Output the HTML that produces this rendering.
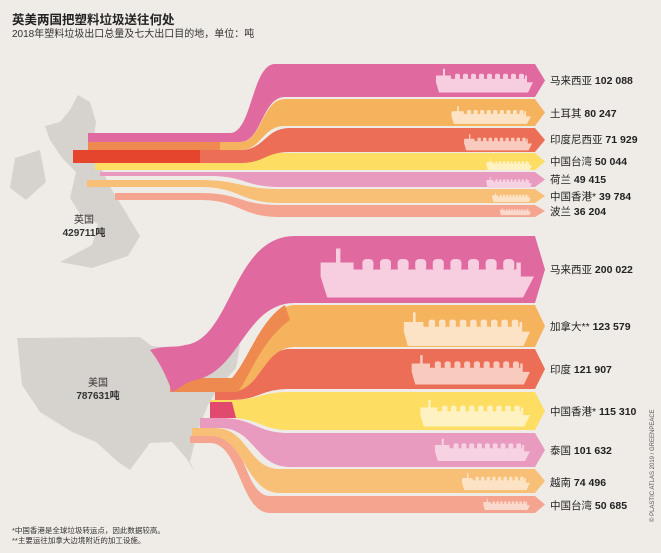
<!DOCTYPE html>
<html><head><meta charset="utf-8"><style>
body{margin:0;background:#efece7;}
svg{display:block;font-family:"Liberation Sans","Noto Sans CJK SC",sans-serif;}
.l{font-size:10.5px;fill:#222;}
.l tspan{font-weight:bold;}
</style></head><body>
<svg width="661" height="553" viewBox="0 0 661 553">
<defs>
<g id="ship">
<path d="M3,18 L3,10 L10,10 L10,2 L12,2 L12,10 L18,10 L18,14 L92,14 L92,10 L94,10 L94,18 L100,18 L95,30 L6,30 Z"/>
<g transform="translate(22,6)">
<rect x="0" y="2" width="5" height="7" rx="2"/><rect x="8" y="2" width="5" height="7" rx="2"/><rect x="16" y="2" width="5" height="7" rx="2"/><rect x="24" y="2" width="5" height="7" rx="2"/><rect x="32" y="2" width="5" height="7" rx="2"/><rect x="40" y="2" width="5" height="7" rx="2"/><rect x="48" y="2" width="5" height="7" rx="2"/><rect x="56" y="2" width="5" height="7" rx="2"/><rect x="64" y="2" width="5" height="7" rx="2"/>
</g>
</g>
</defs>
<rect width="661" height="553" fill="#efece7"/>
<text x="12" y="24" font-size="12.5" font-weight="bold" fill="#222">英美两国把塑料垃圾送往何处</text>
<text x="12" y="37" font-size="10" fill="#333">2018年塑料垃圾出口总量及七大出口目的地，单位：吨</text>

<!-- UK map -->
<g fill="#d6d3ce">
<polygon points="78,95 70,110 60,122 45,126 50,140 62,158 76,172 70,198 80,214 98,224 92,245 60,262 92,268 128,256 140,236 122,206 112,190 102,170 92,150 96,122 90,102"/>
<polygon points="15,158 40,150 46,182 26,200 10,188"/>
</g>
<text x="84" y="223" text-anchor="middle" font-size="10" fill="#333">英国</text>
<text x="84" y="236" text-anchor="middle" font-size="10" fill="#333" font-weight="bold">429711吨</text>

<!-- US map -->
<polygon fill="#d6d3ce" points="17,338 140,337 152,346 170,348 180,360 200,352 225,340 240,345 236,368 218,388 208,405 200,425 194,445 190,462 195,472 186,458 172,442 150,443 130,470 118,462 96,442 72,432 40,412 22,385"/>
<text x="98" y="386" text-anchor="middle" font-size="10" fill="#333">美国</text>
<text x="98" y="399" text-anchor="middle" font-size="10" fill="#333" font-weight="bold">787631吨</text>

<!-- UK bands -->
<path fill="#f5a58f" d="M115,193 L200,193 C240,193 240,205 280,205 L535,205 L545,211 L535,217 L280,217 C240,217 240,200 200,200 L115,200 Z"/>
<path fill="#f8c077" d="M87,180 L200,180 C240,180 240,189 280,189 L535,189 L545,196 L535,203 L280,203 C240,203 240,187 200,187 L87,187 Z"/>
<path fill="#e99abf" d="M100,172 L210,172 C245,172 245,172 280,172 L535,172 L545,179.5 L535,187 L280,187 C245,187 245,176 210,176 L100,176 Z"/>
<path fill="#fedd63" d="M95,163 L200,163 C240,163 240,153 280,153 L535,153 L545,161.5 L535,170 L280,170 C240,170 240,170 200,170 L95,170 Z"/>
<path fill="#ec6e56" d="M73,150 L240,150 C265,150 265,128 290,128 L535,128 L545,140 L535,152 L290,152 C265,152 265,163 240,163 L73,163 Z"/>
<path fill="#e4452c" d="M73,150 L200,150 L200,163 L73,163 Z"/>
<path fill="#f6b35e" d="M88,142 L240,142 C262,142 262,99 285,99 L535,99 L545,112.5 L535,126 L285,126 C262,126 262,150 240,150 L88,150 Z"/>
<path fill="#ee8a50" d="M88,142 L220,142 L220,150 L88,150 Z"/>
<path fill="#e06aa0" d="M88,133 L230,133 C252,133 252,64 275,64 L535,64 L545,80.5 L535,97 L285,97 C262,97 262,142 240,142 L88,142 Z"/>

<!-- US bands -->
<path fill="#f5a58f" d="M190,436 L220,436 C245,436 245,496 270,496 L535,496 L545,504.5 L535,513 L270,513 C240,513 240,443 210,443 L190,443 Z"/>
<path fill="#f8c077" d="M192,428 L215,428 C248,428 248,469 280,469 L535,469 L545,481 L535,493 L280,493 C245,493 245,436 210,436 L192,436 Z"/>
<path fill="#e99abf" d="M200,418 L220,418 C255,418 255,433 290,433 L535,433 L545,450 L535,467 L290,467 C255,467 255,428 220,428 L200,428 Z"/>
<path fill="#fedd63" d="M210,400 L230,400 C260,400 260,392 290,392 L535,392 L545,411 L535,430 L290,430 C260,430 260,418 230,418 L210,418 Z"/>
<path fill="#e14a6e" d="M210,402 L232,402 L236,418 L210,418 Z"/>
<path fill="#ec6e56" d="M215,388 L230,388 C260,388 260,349 290,349 L535,349 L545,369 L535,389 L290,389 C260,389 260,400 230,400 L215,400 Z"/>
<path fill="#f6b35e" d="M170,378 L230,378 C262,378 262,305 295,305 L535,305 L545,326 L535,347 L295,347 C262,347 262,392 230,392 L170,392 Z"/>
<path fill="#ee8a50" d="M170,378 L232,378 C248,360 260,320 285,305 L290,320 C262,340 250,375 238,392 L170,392 Z"/>
<path fill="#e06aa0" d="M150,350 C165,345 175,348 185,345 C232,340 232,236 295,236 L535,236 L545,269.5 L535,303 L295,303 C245,303 240,372 195,380 C185,382 178,390 172,392 C168,380 160,362 150,350 Z"/>

<!-- ships -->
<g fill="#f7cde0"><use href="#ship" transform="translate(433,67) scale(1,0.85)"/><use href="#ship" transform="translate(314,245) scale(2.2,1.75)"/></g>
<g fill="#fde3c6"><use href="#ship" transform="translate(449,105) scale(0.82,0.63)"/><use href="#ship" transform="translate(400,310) scale(1.3,1.2)"/></g>
<g fill="#f8cbbe"><use href="#ship" transform="translate(462,133) scale(0.7,0.58)"/><use href="#ship" transform="translate(408,353) scale(1.22,1.05)"/></g>
<g fill="#fff2c2"><use href="#ship" transform="translate(485,158) scale(0.47,0.4)"/><use href="#ship" transform="translate(417,398) scale(1.13,0.95)"/></g>
<g fill="#f6d2e3"><use href="#ship" transform="translate(485,176) scale(0.47,0.4)"/><use href="#ship" transform="translate(432,437) scale(0.98,0.8)"/></g>
<g fill="#fde3c6"><use href="#ship" transform="translate(491,192) scale(0.4,0.33)"/><use href="#ship" transform="translate(460,472) scale(0.7,0.6)"/></g>
<g fill="#fbd8cc"><use href="#ship" transform="translate(499,207) scale(0.32,0.27)"/><use href="#ship" transform="translate(482,498) scale(0.48,0.4)"/></g>

<!-- labels -->
<g class="l">
<text x="550" y="84">马来西亚 <tspan>102 088</tspan></text>
<text x="550" y="117">土耳其 <tspan>80 247</tspan></text>
<text x="550" y="143">印度尼西亚 <tspan>71 929</tspan></text>
<text x="550" y="165">中国台湾 <tspan>50 044</tspan></text>
<text x="550" y="183">荷兰 <tspan>49 415</tspan></text>
<text x="550" y="200">中国香港* <tspan>39 784</tspan></text>
<text x="550" y="215">波兰 <tspan>36 204</tspan></text>
<text x="550" y="273">马来西亚 <tspan>200 022</tspan></text>
<text x="550" y="330">加拿大** <tspan>123 579</tspan></text>
<text x="550" y="373">印度 <tspan>121 907</tspan></text>
<text x="550" y="415">中国香港* <tspan>115 310</tspan></text>
<text x="550" y="454">泰国 <tspan>101 632</tspan></text>
<text x="550" y="486">越南 <tspan>74 496</tspan></text>
<text x="550" y="509">中国台湾 <tspan>50 685</tspan></text>
</g>
<text x="12" y="533" font-size="7.5" fill="#333">*中国香港是全球垃圾转运点，因此数据较高。</text>
<text x="12" y="543" font-size="7.5" fill="#333">**主要运往加拿大边境附近的加工设施。</text>
<text transform="translate(654,522) rotate(-90)" font-size="6" fill="#555">© PLASTIC ATLAS 2019 / GREENPEACE</text>
</svg>
</body></html>
